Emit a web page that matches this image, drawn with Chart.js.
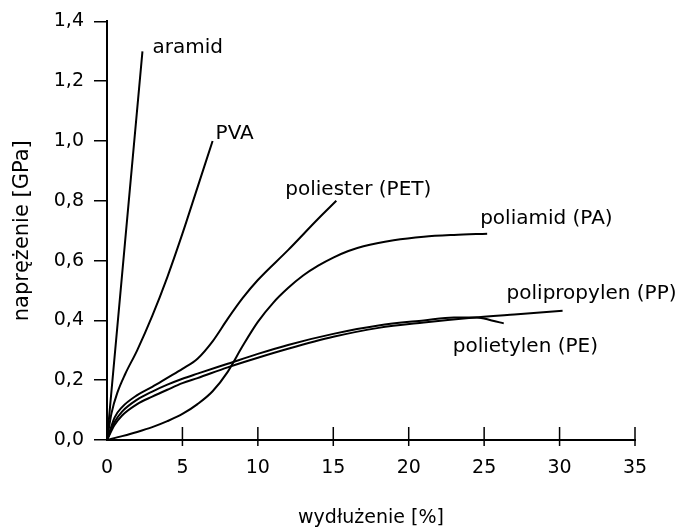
<!DOCTYPE html>
<html>
<head>
<meta charset="utf-8">
<script src="https://cdn.jsdelivr.net/npm/chart.js@4"></script>
<style>
  html, body { margin: 0; padding: 0; background: #fff; }
</style>
</head>
<body>
<canvas id="js--chart" width="684" height="531"></canvas>
<script>
// wydłużenie [%] (x) i naprężenie [GPa] (y) dla każdego włókna
const aramidX = [0, 2.35];
const aramidY = [0, 1.3];

const pvaX = [0, 0.3, 0.7, 1.2, 2, 3, 4, 5, 6, 7];
const pvaY = [0, 0.09, 0.16, 0.22, 0.30, 0.415, 0.545, 0.69, 0.845, 1.0];

const petX = [0, 0.5, 1, 2, 3, 4, 5, 6, 7, 8, 9, 10, 12, 14, 15.2];
const petY = [0, 0.075, 0.11, 0.15, 0.178, 0.208, 0.238, 0.272, 0.33, 0.405, 0.475, 0.535, 0.635, 0.74, 0.8];

const paX = [0, 1, 2, 3, 4, 5, 6, 7, 8, 9, 10, 11, 12, 13, 14, 15, 16, 17, 19, 21, 23, 25.2];
const paY = [0, 0.013, 0.027, 0.043, 0.063, 0.087, 0.12, 0.163, 0.228, 0.315, 0.395, 0.458, 0.508, 0.55, 0.583, 0.61, 0.632, 0.648, 0.668, 0.68, 0.686, 0.69];

const ppX = [0, 0.5, 1, 2, 3, 4, 5, 6, 8, 10, 12, 15, 18, 21, 24, 27, 30.2];
const ppY = [0, 0.05, 0.082, 0.12, 0.145, 0.168, 0.19, 0.207, 0.243, 0.275, 0.305, 0.345, 0.375, 0.393, 0.408, 0.42, 0.432];

const peX = [0, 0.5, 1, 2, 3, 4, 5, 6, 8, 10, 12, 15, 18, 21, 23, 24.5, 25.5, 26.3];
const peY = [0, 0.06, 0.095, 0.135, 0.162, 0.185, 0.205, 0.222, 0.255, 0.288, 0.318, 0.355, 0.383, 0.4, 0.41, 0.41, 0.4, 0.39];

const xTicks = [0, 5, 10, 15, 20, 25, 30, 35];
const yTicks = [0, 0.2, 0.4, 0.6, 0.8, 1.0, 1.2, 1.4];

const ink = '#000';
const fontFamily = '"DejaVu Sans", sans-serif';

function points(xs, ys) {
    return xs.map((x, i) => ({ x: x, y: ys[i] }));
}

function series(label, xs, ys, labelOffset) {
    return {
        label: label,
        data: points(xs, ys),
        borderColor: ink,
        borderWidth: 2,
        pointRadius: 0,
        fill: false,
        cubicInterpolationMode: 'monotone',
        labelOffset: labelOffset
    };
}

// podpisy krzywych przy końcu każdej linii
const curveLabels = {
    id: 'curveLabels',
    afterDatasetsDraw(chart) {
        const ctx = chart.ctx;
        ctx.save();
        ctx.font = '20px ' + fontFamily;
        ctx.fillStyle = ink;
        ctx.textAlign = 'left';
        ctx.textBaseline = 'alphabetic';
        chart.data.datasets.forEach((ds, i) => {
            const pts = chart.getDatasetMeta(i).data;
            const end = pts[pts.length - 1];
            ctx.fillText(ds.label, end.x + ds.labelOffset[0], end.y + ds.labelOffset[1]);
        });
        ctx.restore();
    }
};

// kreski podziałki na osi x przecinają oś
const xTickMarks = {
    id: 'xTickMarks',
    afterDraw(chart) {
        const xs = chart.scales.x;
        const y0 = chart.scales.y.getPixelForValue(0);
        const ctx = chart.ctx;
        ctx.save();
        ctx.strokeStyle = ink;
        ctx.lineWidth = 1.5;
        ctx.beginPath();
        xTicks.forEach(v => {
            if (v === 0) return;
            const px = xs.getPixelForValue(v);
            ctx.moveTo(px, y0 - 13);
            ctx.lineTo(px, y0 + 6);
        });
        ctx.stroke();
        ctx.restore();
    }
};

const data = {
    datasets: [
        series('aramid', aramidX, aramidY, [10, 2]),
        series('PVA', pvaX, pvaY, [3, -2]),
        series('poliester (PET)', petX, petY, [-51, -6]),
        series('poliamid (PA)', paX, paY, [-7, -10]),
        series('polipropylen (PP)', ppX, ppY, [-56, -12]),
        series('polietylen (PE)', peX, peY, [-51, 29])
    ]
};

const config = {
    type: 'line',
    data: data,
    options: {
        responsive: false,
        animation: false,
        layout: {
            padding: { top: 19, right: 49, left: 0, bottom: 0 }
        },
        scales: {
            x: {
                type: 'linear',
                min: 0,
                max: 35,
                afterFit: scale => { scale.height = 91; },
                afterBuildTicks: scale => { scale.ticks = xTicks.map(v => ({ value: v })); },
                grid: { display: false, drawTicks: false },
                border: { display: true, color: ink, width: 2 },
                ticks: {
                    color: ink,
                    padding: 17,
                    maxRotation: 0,
                    font: { family: fontFamily, size: 19 }
                },
                title: {
                    display: true,
                    text: 'wydłużenie [%]',
                    color: ink,
                    padding: { top: 0, bottom: 2 },
                    font: { family: fontFamily, size: 19 }
                }
            },
            y: {
                min: 0,
                max: 1.4,
                afterFit: scale => { scale.width = 107; },
                afterBuildTicks: scale => { scale.ticks = yTicks.map(v => ({ value: v })); },
                grid: {
                    drawOnChartArea: false,
                    drawTicks: true,
                    tickLength: 13,
                    color: ink,
                    lineWidth: 1.5
                },
                border: { display: true, color: ink, width: 2 },
                ticks: {
                    color: ink,
                    padding: 10,
                    font: { family: fontFamily, size: 19 },
                    callback: v => v.toFixed(1).replace('.', ',')
                },
                title: {
                    display: true,
                    text: 'naprężenie [GPa]',
                    color: ink,
                    padding: { top: 10, bottom: 0 },
                    font: { family: fontFamily, size: 21 }
                }
            }
        },
        plugins: {
            legend: { display: false },
            tooltip: { enabled: false }
        }
    },
    plugins: [curveLabels, xTickMarks]
};

new Chart(document.getElementById('js--chart'), config);
</script>
</body>
</html>
